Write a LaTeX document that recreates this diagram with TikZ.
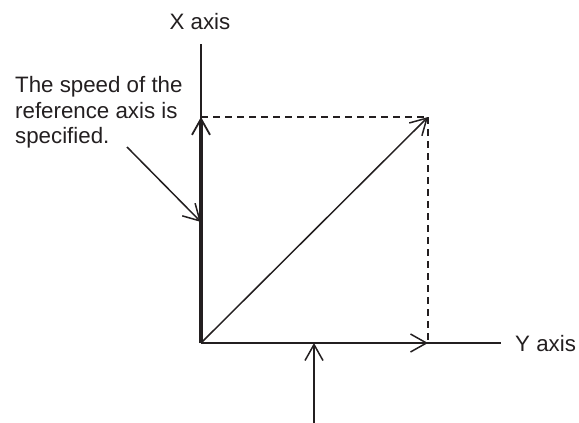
\documentclass[tikz,border=0pt]{standalone}
\usepackage{fontspec}
\setmainfont{Liberation Sans}
\usetikzlibrary{arrows.meta}
\definecolor{ink}{HTML}{231F20}
\tikzset{
  axisline/.style={draw=ink, line width=1.8pt},
  thinline/.style={draw=ink, line width=1.5pt},
  dashline/.style={draw=ink, line width=1.5pt, dash pattern=on 7pt off 5pt},
  barb/.style={-{Straight Barb[length=16pt, width=18pt, line width=1.5pt]}},
  lbl/.style={font=\fontsize{22.3}{26}\selectfont, text=ink, inner sep=0pt},
}
\begin{document}
\begin{tikzpicture}[x=1pt, y=-1pt]
\useasboundingbox (0,0) rectangle (579,423);
\coordinate (O) at (201,343);
\coordinate (Xtop) at (201,44);
\coordinate (P) at (201,117);
\coordinate (Q) at (428,117);
\coordinate (R) at (428,343);
\coordinate (Yend) at (501,343);
\coordinate (T) at (314,343);
\coordinate (B) at (314,423);
\coordinate (A) at (127,147);
\coordinate (Ahit) at (201,222);
% axes
\draw[axisline] (O) -- (Xtop);
\draw[axisline] (O) -- (Yend);
% vectors
\draw[draw=ink, line width=3.6pt, -{Straight Barb[length=16pt, width=18pt, line width=1.8pt]}] (O) -- (P);
\draw[thinline, barb] (O) -- (R);
\draw[thinline, barb] (O) -- (Q);
% dashed
\draw[dashline] (P) -- (Q);
\draw[dashline] (Q) -- (R);
% annotations
\draw[thinline, barb] (A) -- (Ahit);
\draw[thinline, barb] (B) -- (T);
% labels
\node[lbl, anchor=base] (xl) at (200,30) {X axis};
\node[lbl, anchor=base west] (yl) at (515,351) {Y axis};
\node[lbl, anchor=base west] (note) at (15,92) {The speed of the};
\node[lbl, anchor=base west] (note2) at (15,118) {reference axis is};
\node[lbl, anchor=base west] (note3) at (15,143) {specified.};
\end{tikzpicture}
\end{document}
